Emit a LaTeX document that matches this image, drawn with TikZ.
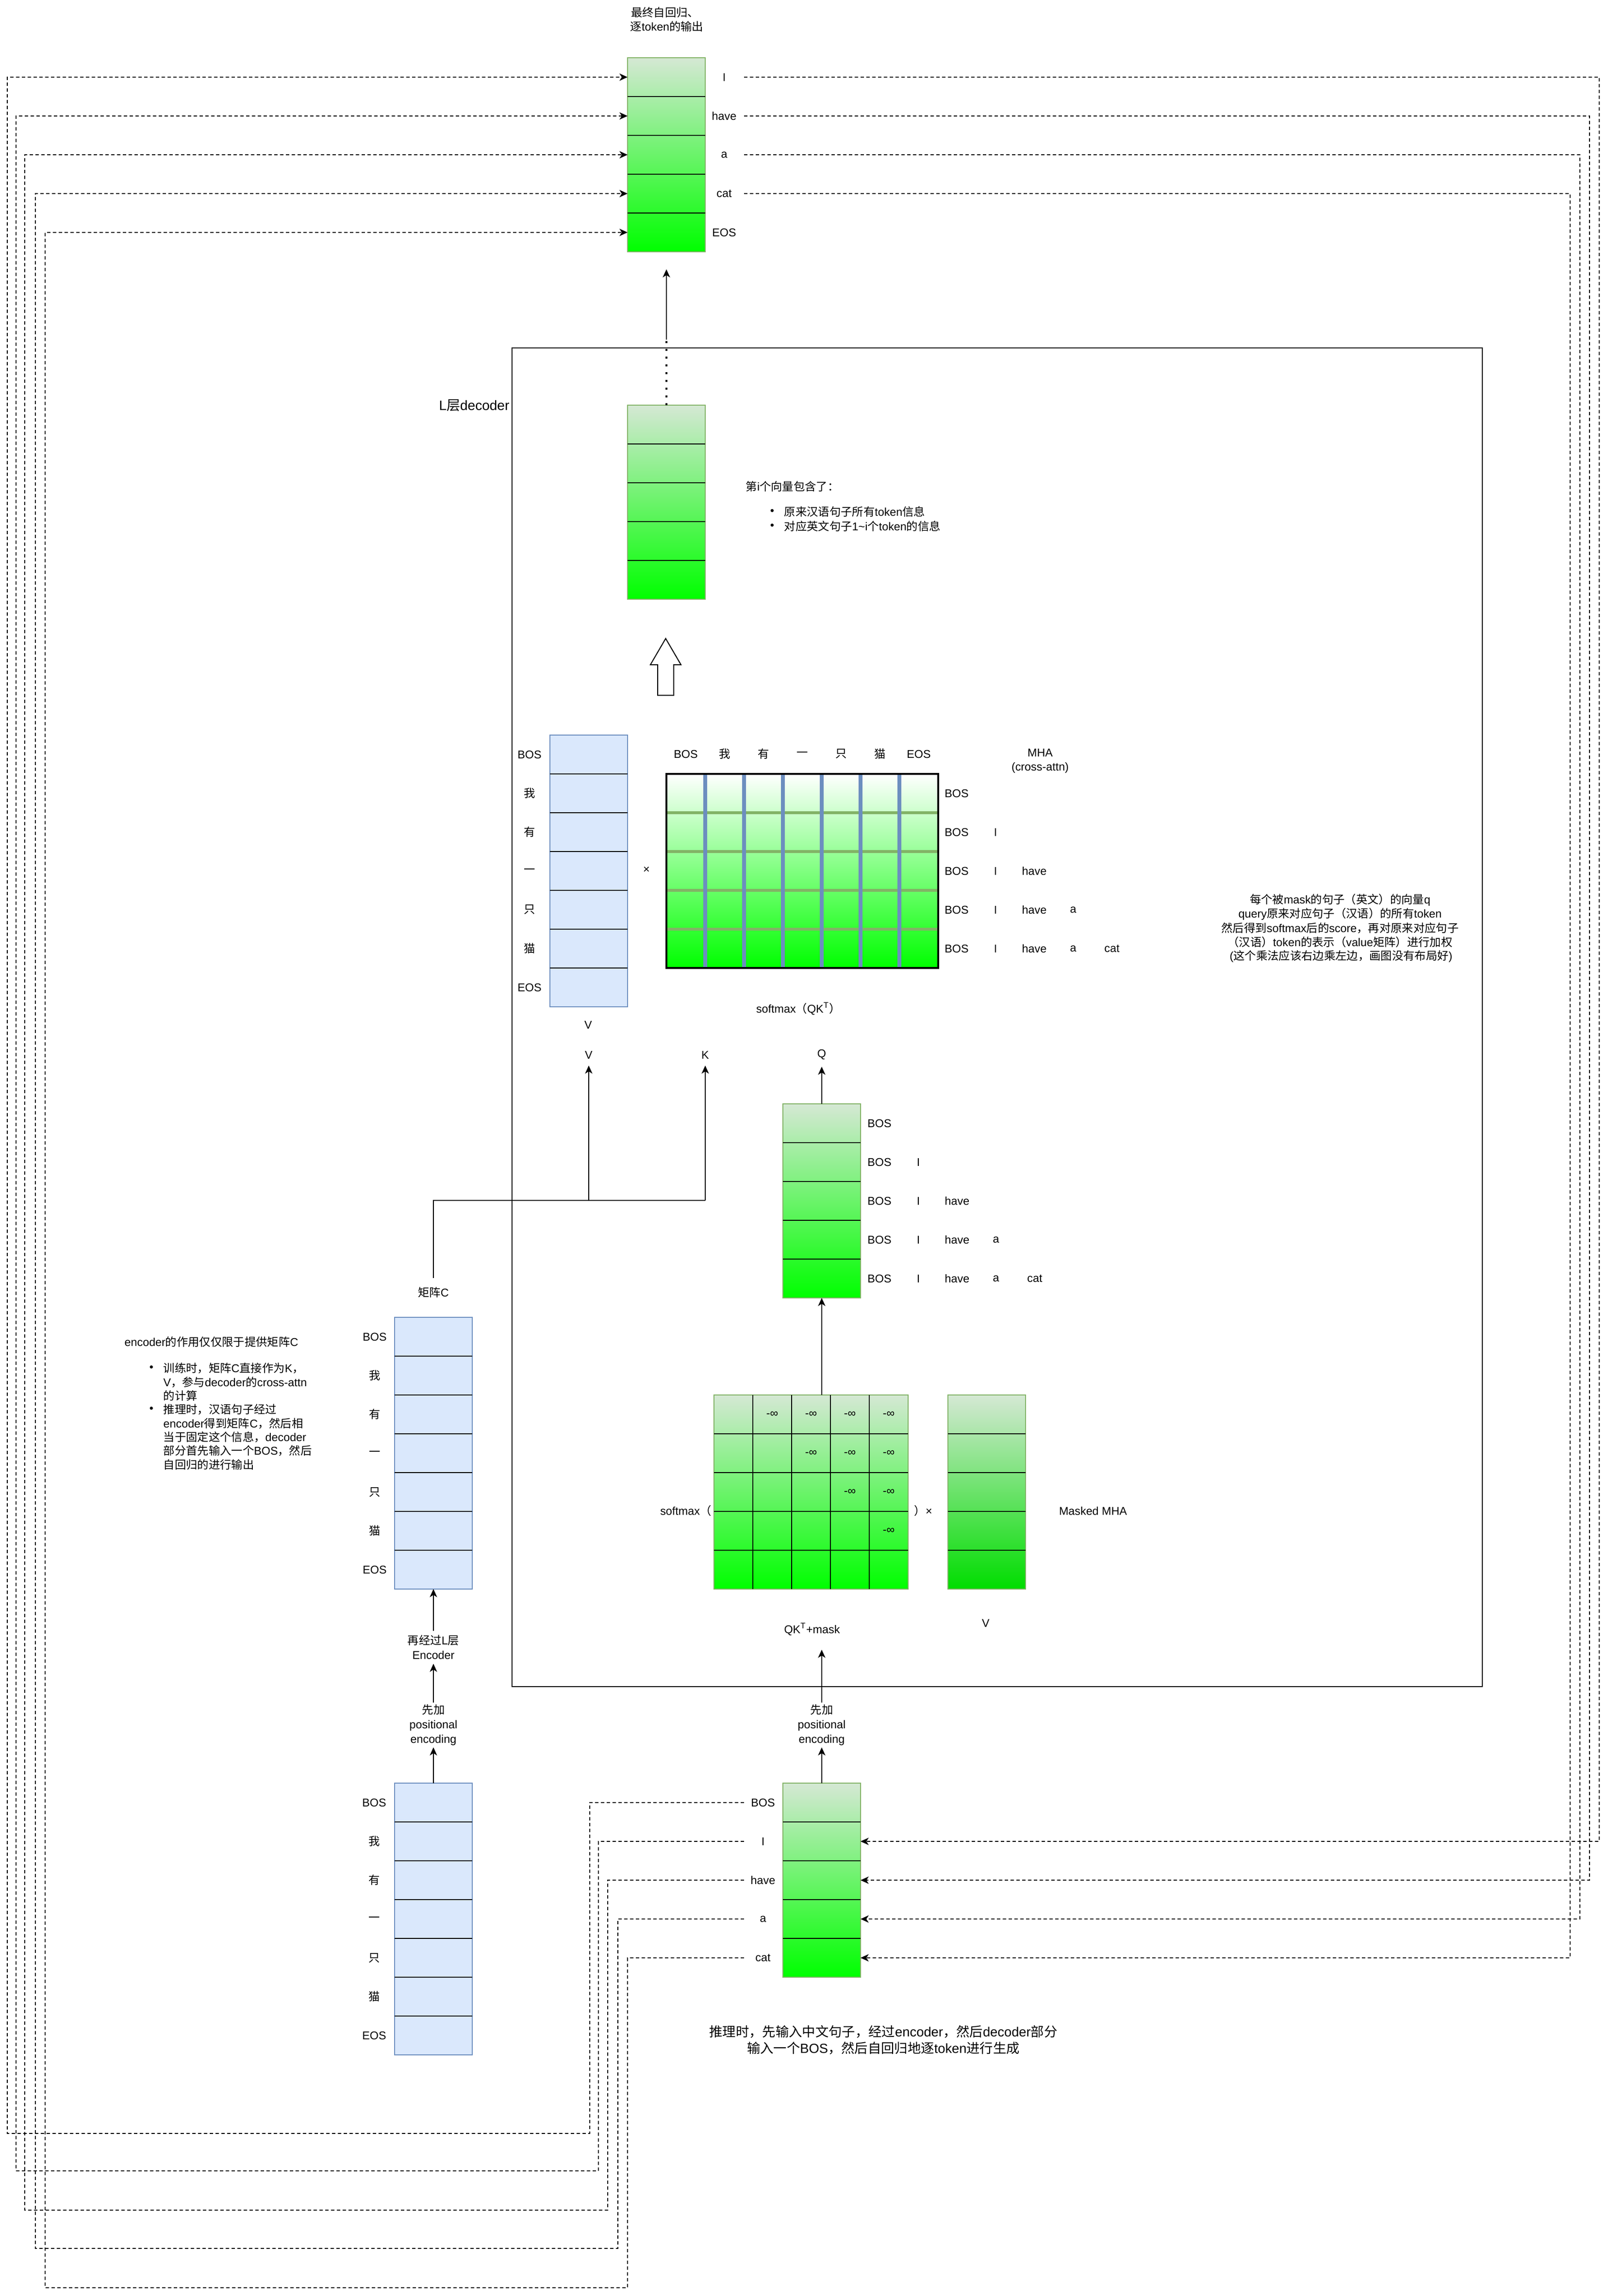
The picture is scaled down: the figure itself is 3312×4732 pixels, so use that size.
\documentclass[tikz,border=0pt]{standalone}
\usepackage{fontspec}
\setmainfont{Liberation Sans}
\newfontfamily\cjkfont{Noto Sans CJK SC}
\newcommand\zh[1]{{\cjkfont #1}}
\newcommand\smallfs{\fontsize{7pt}{8.4pt}\selectfont}
\newcommand\tokname[1]{\ifcase#1\or BOS\or I\or have\or a\or cat\fi}
\usetikzlibrary{arrows.meta}
\definecolor{gtop}{HTML}{D5E8D4}
\definecolor{gbot}{HTML}{00FF00}
\definecolor{gbotb}{HTML}{00DD00}
\definecolor{gline}{HTML}{82B366}
\definecolor{bfill}{HTML}{DAE8FC}
\definecolor{bline}{HTML}{6C8EBF}
\tikzset{
  lab/.style={font=\smallfs, inner sep=3pt},
  txt/.style={font=\smallfs, inner sep=0pt},
  divl/.style={line width=0.6pt, draw=black},
  stackg/.style={draw=gline, line width=0.6pt, top color=gtop, bottom color=gbot, inner sep=0pt, outer sep=0pt, minimum width=48pt, anchor=north west},
  stackb/.style={draw=bline, line width=0.7pt, fill=bfill, inner sep=0pt, outer sep=0pt, minimum width=48pt, anchor=north west},
  tipa/.style={-{Stealth[length=5pt,width=4.5pt,inset=1.4pt]}},
  conn/.style={line width=0.6pt},
  arr/.style={conn, tipa},
  dashln/.style={line width=0.6pt, dash pattern=on 2.1pt off 1.5pt},
  dasharr/.style={dashln, tipa},
  dotln/.style={line width=1.2pt, dash pattern=on 1.2pt off 3.6pt},
  pelab/.style={font=\fontsize{7pt}{9pt}\selectfont, align=center, inner sep=1pt},
}
\begin{document}
\begin{tikzpicture}[x=0.3pt,y=-0.3pt]
\useasboundingbox (0,0) rectangle (3312,4732);
\fill[white] (0,0) rectangle (3312,4732);

% ---------------- decoder box ----------------
\node[draw, line width=0.7pt, inner sep=0pt, outer sep=0pt, minimum width=599.7pt, minimum height=827.7pt, anchor=north west] (dec) at (1055,717) {};
\node[font=\fontsize{8.4pt}{10pt}\selectfont, anchor=east, inner sep=0pt] (declab) at (1050,836) {L\zh{层}decoder};

% ---------------- output stack ----------------
\node[txt] (ttl1) at (1370,26) {\zh{最终自回归、}};
\node[txt] (ttl2) at (1374,55) {\zh{逐}token\zh{的输出}};
\node[stackg, minimum height=120pt] (outS) at (1293,119) {};
\foreach \y in {199,279,359,439} \draw[divl] (1293,\y) -- (1453,\y);
\foreach \t [count=\i] in {I,have,a,cat,EOS} \node[lab] (oL\i) at (1492,{79+80*\i}) {\t};

% ---------------- hidden stack ----------------
\node[stackg, minimum height=120pt] (hid) at (1293,835) {};
\foreach \y in {915,995,1075,1155} \draw[divl] (1293,\y) -- (1453,\y);
\coordinate (dotTop) at (1373,700);
\coordinate (outTip) at (1373,555);
\draw[dotln] (hid.north) -- (dotTop);
\draw[arr] (dotTop) -- (outTip);

\node[txt, anchor=west] (inf0) at (1536,1003) {\zh{第}i\zh{个向量包含了：}};
\node[txt] (infb1) at (1591,1055) {•};
\node[txt] (infb2) at (1591,1085) {•};
\node[txt, anchor=west] (inf1) at (1615,1055) {\zh{原来汉语句子所有}token\zh{信息}};
\node[txt, anchor=west] (inf2) at (1615,1085) {\zh{对应英文句子}1\textasciitilde i\zh{个}token\zh{的信息}};

% block arrow
\draw[line width=0.6pt, fill=white] (1340,1370) -- (1371.5,1316) -- (1403,1370) -- (1388,1370) -- (1388,1433) -- (1355,1433) -- (1355,1370) -- cycle;

% ---------------- cross attention ----------------
\node[stackb, minimum height=168pt] (vS) at (1133,1515) {};
\foreach \y in {1595,1675,1755,1835,1915,1995} \draw[divl] (1133,\y) -- (1293,\y);
\foreach \t [count=\i] in {BOS,\zh{我},\zh{有},\zh{一},\zh{只},\zh{猫},EOS} \node[lab] (vL\i) at (1091,{1475+80*\i}) {\t};
\node[lab] (vLab) at (1212,2112) {V};
\node[lab] (tms1) at (1332,1793) {×};

\node[top color=white, bottom color=gbot, inner sep=0pt, outer sep=0pt, minimum width=168pt, minimum height=120pt, anchor=north west] (attM) at (1373,1595) {};
\foreach \y in {1675,1755,1835,1915} \draw[line width=2pt, gline] (1373,\y) -- (1933,\y);
\foreach \x in {1453,1533,1613,1693,1773,1853} \draw[line width=2.5pt, bline] (\x,1595) -- (\x,1995);
\draw[line width=1pt] (attM.north west) rectangle (attM.south east);
\foreach \t [count=\i] in {BOS,\zh{我},\zh{有},\zh{一},\zh{只},\zh{猫},EOS} \node[lab] (cH\i) at ({1333+80*\i},1554) {\t};
\foreach \r in {1,...,5} \foreach \k in {1,...,\r} \node[lab] (ca\r\k) at ({1891+80*\k},{1555+80*\r}) {\tokname{\k}};
\node[lab] (mha1) at (2143,1551) {MHA};
\node[lab] (mha2) at (2143,1582) {(cross-attn)};
\node[lab] (smx2) at (1645,2079) {softmax\zh{（}QK\textsuperscript{T}\zh{）}};

\node[txt] (nt1) at (2761,1855) {\zh{每个被}mask\zh{的句子（英文）的向量}q};
\node[txt] (nt2) at (2761,1884) {query\zh{原来对应句子（汉语）的所有}token};
\node[txt] (nt3) at (2761,1913) {\zh{然后得到}softmax\zh{后的}score\zh{，再对原来对应句子}};
\node[txt] (nt4) at (2761,1942) {\zh{（汉语）}token\zh{的表示（}value\zh{矩阵）进行加权}};
\node[txt] (nt5) at (2763,1971) {(\zh{这个乘法应该右边乘左边，画图没有布局好})};

% V K Q labels
\node[lab, inner ysep=4pt] (labV) at (1213,2174) {V};
\node[lab, inner ysep=4pt] (labK) at (1453,2174) {K};
\node[lab, inner ysep=4pt] (labQ) at (1693,2174) {Q};

% ---------------- Q stack ----------------
\node[stackg, minimum height=120pt] (qS) at (1613,2275) {};
\foreach \y in {2355,2435,2515,2595} \draw[divl] (1613,\y) -- (1773,\y);
\foreach \r in {1,...,5} \foreach \k in {1,...,\r} \node[lab] (qL\r\k) at ({1732+80*\k},{2235+80*\r}) {\tokname{\k}};
\draw[arr] (qS.north) -- (labQ.south);

% ---------------- masked MHA ----------------
\node[stackg, minimum width=120pt, minimum height=120pt] (mM) at (1471,2875) {};
\foreach \x in {1551,1631,1711,1791} \draw[divl] (\x,2875) -- (\x,3275);
\foreach \y in {2955,3035,3115,3195} \draw[divl] (1471,\y) -- (1871,\y);
\foreach \r in {1,...,4} \foreach \c in {\r,...,4} \node[lab] (mi\r\c) at ({1591+80*(\c-1)},{2915+80*(\r-1)}) {-∞};
\draw[arr] (qS.south |- mM.north) -- (qS.south);
\node[txt, anchor=east] (smx) at (1466,3114) {softmax\zh{（}};
\node[txt, anchor=west] (rpar) at (1883,3114) {\zh{）}×};
\node[stackg, bottom color=gbotb, minimum height=120pt] (v2S) at (1953,2875) {};
\foreach \y in {2955,3035,3115,3195} \draw[divl] (1953,\y) -- (2113,\y);
\node[lab] (mmha) at (2252,3114) {Masked MHA};
\node[lab] (v2lab) at (2031,3345) {V};
\node[lab, inner ysep=8.5pt] (qkm) at (1673,3358) {QK\textsuperscript{T}+mask};

% ---------------- decoder input ----------------
\node[stackg, minimum height=120pt] (inS) at (1613,3675) {};
\foreach \y in {3755,3835,3915,3995} \draw[divl] (1613,\y) -- (1773,\y);
\foreach \t [count=\i] in {BOS,I,have,a,cat} \node[lab] (iL\i) at (1572,{3635+80*\i}) {\t};
\node[pelab] (peD) at (1693,3555) {\zh{先加}\\positional\\encoding};
\draw[arr] (inS.north) -- (peD.south);
\draw[arr] (peD.north) -- (peD.north |- qkm.south);

% ---------------- encoder side ----------------
\node[stackb, minimum height=168pt] (eIn) at (813,3675) {};
\foreach \y in {3755,3835,3915,3995,4075,4155} \draw[divl] (813,\y) -- (973,\y);
\foreach \t [count=\i] in {BOS,\zh{我},\zh{有},\zh{一},\zh{只},\zh{猫},EOS} \node[lab] (eiL\i) at (771,{3635+80*\i}) {\t};

\node[stackb, minimum height=168pt] (eC) at (813,2715) {};
\foreach \y in {2795,2875,2955,3035,3115,3195} \draw[divl] (813,\y) -- (973,\y);
\foreach \t [count=\i] in {BOS,\zh{我},\zh{有},\zh{一},\zh{只},\zh{猫},EOS} \node[lab] (ecL\i) at (772,{2675+80*\i}) {\t};

\node[pelab] (peE) at (893,3555) {\zh{先加}\\positional\\encoding};
\node[pelab, inner sep=2.5pt] (reE) at (893,3395) {\zh{再经过}L\zh{层}\\Encoder};
\draw[arr] (eIn.north) -- (peE.south);
\draw[arr] (peE.north) -- (reE.south);
\draw[arr] (reE.north) -- (eC.south);

\node[lab, inner ysep=5.5pt] (labC) at (893,2664) {\zh{矩阵}C};
\coordinate (jC) at (893,2474);
\coordinate (jV) at (1213,2474);
\coordinate (jK) at (1453,2474);
\draw[conn] (labC.north) -- (jC) -- (jK);
\draw[arr] (jK) -- (labK.south);
\draw[arr] (jV) -- (labV.south);

\node[txt, anchor=west] (encT) at (256,2766) {encoder\zh{的作用仅仅限于提供矩阵}C};
\node[txt] (encD1) at (312,2820) {•};
\node[txt] (encD2) at (312,2905) {•};
\node[txt, anchor=west] (enc1) at (336,2820) {\zh{训练时，矩阵}C\zh{直接作为}K\zh{，}};
\node[txt, anchor=west] (enc2) at (336,2849) {V\zh{，参与}decoder\zh{的}cross-attn};
\node[txt, anchor=west] (enc3) at (336,2877) {\zh{的计算}};
\node[txt, anchor=west] (enc4) at (336,2905) {\zh{推理时，汉语句子经过}};
\node[txt, anchor=west] (enc5) at (336,2934) {encoder\zh{得到矩阵}C\zh{，然后相}};
\node[txt, anchor=west] (enc6) at (336,2962) {\zh{当于固定这个信息，}decoder};
\node[txt, anchor=west] (enc7) at (336,2990) {\zh{部分首先输入一个}BOS\zh{，然后}};
\node[txt, anchor=west] (enc8) at (336,3019) {\zh{自回归的进行输出}};

% ---------------- bottom note ----------------
\node[font=\fontsize{8.2pt}{10pt}\selectfont, inner sep=0pt] (bn1) at (1820,4187) {\zh{推理时，先输入中文句子，经过}encoder\zh{，然后}decoder\zh{部分}};
\node[font=\fontsize{8.2pt}{10pt}\selectfont, inner sep=0pt] (bn2) at (1820,4221) {\zh{输入一个}BOS\zh{，然后自回归地逐}token\zh{进行生成}};

% ---------------- dashed feedback loops ----------------
\foreach \k in {1,...,5} \coordinate (iS\k) at (1533,{3635+80*\k});
\foreach \k in {1,...,4} \coordinate (oR\k) at (1533,{79+80*\k});
\foreach \k/\xa/\yb/\xo in {1/1215/4397/15, 2/1233/4474/33, 3/1252/4555/51, 4/1273/4634/73, 5/1293/4715/93}
  \draw[dasharr] (iS\k) -- (\xa,{3635+80*\k}) -- (\xa,\yb) -- (\xo,\yb) -- (\xo,{79+80*\k}) -- (outS.west |- oL\k);
\foreach \k/\xr/\m in {1/3295/2, 2/3275/3, 3/3255/4, 4/3235/5}
  \draw[dasharr] (oR\k) -- (\xr,{79+80*\k}) -- (\xr,{3715+80*\k}) -- (inS.east |- iL\m);
\end{tikzpicture}
\end{document}
